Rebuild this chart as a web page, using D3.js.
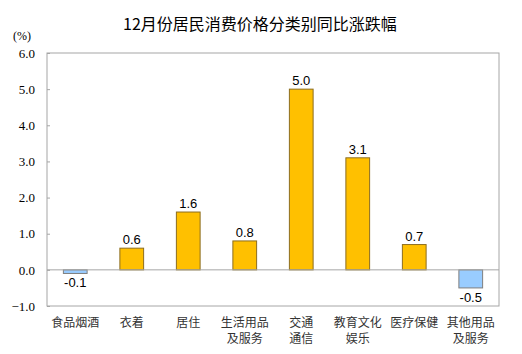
<!DOCTYPE html>
<html><head><meta charset="utf-8">
<script src="https://cdn.jsdelivr.net/npm/d3@7"></script>
<style>body{margin:0;background:#fff}svg{display:block}</style>
</head><body>
<script>
const categories = [["食品烟酒"],["衣着"],["居住"],["生活用品","及服务"],["交通","通信"],["教育文化","娱乐"],["医疗保健"],["其他用品","及服务"]];
const values = [-0.1, 0.6, 1.6, 0.8, 5.0, 3.1, 0.7, -0.5];
const yTicks = [-1, 0, 1, 2, 3, 4, 5, 6];
const title = "12月份居民消费价格分类别同比涨跌幅";
const unit = "(%)";

const W = 522, H = 354;
const m = {left: 47, right: 23, top: 53, bottom: 48};
const svg = d3.select("body").append("svg").attr("width", W).attr("height", H);
const x = d3.scaleBand().domain(d3.range(categories.length)).range([m.left, W - m.right]).paddingInner(0.58).paddingOuter(0.29);
const y = d3.scaleLinear().domain([-1, 6]).range([H - m.bottom, m.top]);

svg.append("text").attr("x", 260).attr("y", 30).attr("text-anchor", "middle")
  .attr("font-family", "Noto Sans CJK SC").attr("font-size", 16).attr("fill", "#000").text(title);
svg.append("text").attr("x", 13).attr("y", 40).attr("font-family", "Liberation Serif")
  .attr("font-size", 12).attr("fill", "#000").text(unit);

// frame
svg.append("rect").attr("x", m.left).attr("y", m.top).attr("width", W - m.left - m.right)
  .attr("height", H - m.top - m.bottom).attr("fill", "none").attr("stroke", "#a6a6a6").attr("stroke-width", 1);

const ax = svg.append("g").attr("transform", `translate(${m.left},0)`)
  .call(d3.axisLeft(y).tickValues(yTicks).tickFormat(d3.format(".1f")).tickSize(-3).tickPadding(12));
ax.select(".domain").remove();
ax.selectAll("line").attr("stroke", "#a6a6a6");
ax.selectAll("text").attr("font-family", "Liberation Serif").attr("font-size", 13).attr("fill", "#000");

// bars
svg.selectAll("rect.bar").data(values).join("rect").attr("class", "bar")
  .attr("x", (d, i) => x(i)).attr("width", x.bandwidth())
  .attr("y", d => y(Math.max(0, d))).attr("height", d => Math.abs(y(d) - y(0)))
  .attr("fill", d => d >= 0 ? "#ffc000" : "#99ccff")
  .attr("stroke", d => d >= 0 ? "#8c6d1f" : "#7f7f7f").attr("stroke-width", 1);

// zero line
svg.append("line").attr("x1", m.left).attr("x2", W - m.right).attr("y1", y(0)).attr("y2", y(0))
  .attr("stroke", "#a6a6a6");

// value labels
svg.selectAll("text.val").data(values).join("text").attr("class", "val")
  .attr("x", (d, i) => x(i) + x.bandwidth() / 2)
  .attr("y", d => d >= 0 ? y(d) - 4 : y(d) + 14)
  .attr("text-anchor", "middle").attr("font-family", "Liberation Sans").attr("font-size", 13)
  .attr("fill", "#000").text(d => d.toFixed(1));

// category labels
const cl = svg.selectAll("text.cat").data(categories).join("text").attr("class", "cat")
  .attr("text-anchor", "middle").attr("font-family", "Noto Sans CJK SC").attr("font-size", 12).attr("fill", "#333");
cl.each(function(d, i) {
  d3.select(this).selectAll("tspan").data(d).join("tspan")
    .attr("x", x(i) + x.bandwidth() / 2).attr("y", (t, j) => 327 + j * 16).text(t => t);
});
</script>
</body></html>
